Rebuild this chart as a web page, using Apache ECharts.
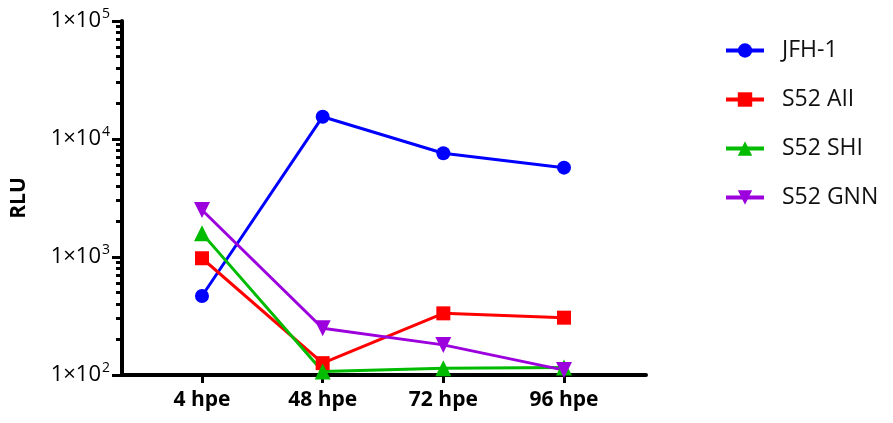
<!DOCTYPE html>
<html>
<head>
<meta charset="utf-8">
<script src="https://cdn.jsdelivr.net/npm/echarts@6/dist/echarts.min.js"></script>
<style>html,body{margin:0;padding:0;background:#fff}#c{width:893px;height:423px}</style>
</head>
<body>
<div id="c"></div>
<script>
var categories = ['4 hpe', '48 hpe', '72 hpe', '96 hpe'];
var jfh1 = [467, 15450, 7570, 5715];
var s52AII = [976, 126, 333, 306];
var s52SHI = [1586, 107, 114, 116];
var s52GNN = [2500, 249, 180, 110];
var yMajorTicks = [100, 1000, 10000, 100000];
var yMinorTicks = [200,300,400,500,600,700,800,900,2000,3000,4000,5000,6000,7000,8000,9000,20000,30000,40000,50000,60000,70000,80000,90000];

var FONT = 'Open Sans';
function pts(arr) { return arr.map(function (v, i) { return [i + 1, v]; }); }
var downTri = 'path://M0,0 L10,0 L5,9 Z';

function mk(name, data, color, symbol, size) {
  return {
    name: name, type: 'line', data: pts(data),
    symbol: symbol, symbolSize: size, showAllSymbol: true,
    lineStyle: { color: color, width: 3 },
    itemStyle: { color: color },
    emphasis: { disabled: true },
    animation: false
  };
}

var chart = echarts.init(document.getElementById('c'));
chart.setOption({
  animation: false,
  backgroundColor: '#fff',
  grid: { left: 122, top: 21, right: 247, bottom: 48, containLabel: false },
  legend: {
    orient: 'vertical', left: 719, top: 34,
    itemWidth: 38, itemHeight: 18, itemGap: 26,
    lineStyle: { width: 4 },
    textStyle: { fontFamily: FONT, fontSize: 23, lineHeight: 20, color: '#111', padding: [0, 0, 0, 13] },
    data: ['JFH-1', 'S52 AII', 'S52 SHI', 'S52 GNN']
  },
  xAxis: {
    type: 'value', min: 1 - 80 / 120.7, max: 4 + 82 / 120.7,
    splitLine: { show: false },
    axisLine: { lineStyle: { color: '#000', width: 4 } },
    axisTick: { show: true, length: 8, lineStyle: { color: '#000', width: 3 }, customValues: [1, 2, 3, 4] },
    axisLabel: {
      customValues: [1, 2, 3, 4], margin: 15,
      formatter: function (v) { return categories[Math.round(v) - 1] || ''; },
      fontFamily: FONT, fontWeight: 'bold', fontSize: 21, color: '#000'
    }
  },
  yAxis: [{
    type: 'log', logBase: 10, min: 100, max: 100000, position: 'left',
    name: 'RLU', nameLocation: 'middle', nameGap: 92, nameRotate: 90,
    nameTextStyle: { fontFamily: FONT, fontWeight: 'bold', fontSize: 21, color: '#000' },
    splitLine: { show: false },
    axisLine: { show: true, lineStyle: { color: '#000', width: 4 } },
    axisTick: { show: true, length: 10, lineStyle: { color: '#000', width: 3 }, customValues: yMajorTicks },
    axisLabel: {
      customValues: yMajorTicks, margin: 12,
      formatter: function (v) {
        var e = Math.round(Math.log10(v));
        return '{b|1×10}{s|' + e + '}';
      },
      rich: {
        b: { fontFamily: FONT, fontSize: 22, color: '#000' },
        s: { fontFamily: FONT, fontSize: 14, color: '#000', padding: [0, 0, 13, 1] }
      }
    }
  }, {
    type: 'log', logBase: 10, min: 100, max: 100000, position: 'left', offset: 0,
    splitLine: { show: false },
    axisLine: { show: false },
    axisTick: { show: true, length: 6, lineStyle: { color: '#000', width: 3 }, customValues: yMinorTicks },
    axisLabel: { show: false }
  }],
  series: [
    mk('JFH-1', jfh1, '#0000ff', 'circle', 14),
    mk('S52 AII', s52AII, '#ff0000', 'rect', 14),
    mk('S52 SHI', s52SHI, '#00bb00', 'triangle', 16),
    mk('S52 GNN', s52GNN, '#9b00dd', downTri, 16)
  ]
});
</script>
</body>
</html>
